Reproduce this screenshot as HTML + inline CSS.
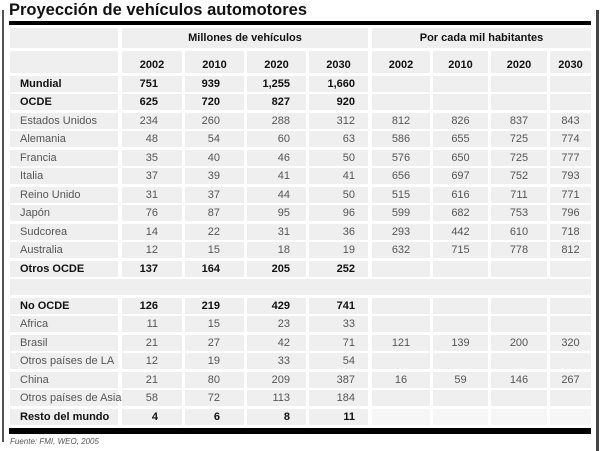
<!DOCTYPE html>
<html><head><meta charset="utf-8"><style>
body{margin:0;width:600px;height:451px;background:#fff;position:relative;overflow:hidden;font-family:"Liberation Sans",sans-serif;}
div{position:absolute;box-sizing:border-box;white-space:nowrap;}
.r div{background:#efefef;height:16px;line-height:16px;font-size:11px;color:#555;}
.r.b div{color:#111;font-weight:bold;}
.L{left:10px;width:108px;padding-left:10px;overflow:visible;}
.a{left:122px;width:60px;text-align:right;padding-right:24px;}
.b_{left:185px;width:59px;text-align:right;padding-right:24px;}
.c{left:247px;width:59px;text-align:right;padding-right:16px;}
.d{left:309px;width:59px;text-align:right;padding-right:13px;}
.e{left:372px;width:58px;text-align:center;}
.f{left:433px;width:55px;text-align:center;}
.g{left:491px;width:56px;text-align:center;}
.h{left:550px;width:41px;text-align:center;}
.r{left:0;width:600px;height:16px;}
</style></head><body>
<div style="left:2px;top:10px;width:2px;height:432px;background:#555"></div>
<div style="left:596px;top:10px;width:3px;height:441px;background:#444"></div>
<div style="left:9px;top:0;font-size:16.5px;font-weight:bold;color:#111;line-height:20px;">Proyección de vehículos automotores</div>
<div style="left:9px;top:21px;width:582px;height:4px;background:#000"></div>

<div style="left:10px;top:28px;width:108px;height:20px;background:#efefef"></div>
<div style="left:122px;top:28px;width:246px;height:20px;background:#efefef;text-align:center;font-size:11px;font-weight:bold;line-height:20px;color:#111">Millones de vehículos</div>
<div style="left:372px;top:28px;width:219px;height:20px;background:#efefef;text-align:center;font-size:11px;font-weight:bold;line-height:20px;color:#111">Por cada mil habitantes</div>

<div class="r b" style="top:51px;height:22px">
<div class="L" style="height:22px"></div>
<div class="a" style="height:22px;padding:6px 0 0;text-align:center;padding-left:0;">2002</div>
<div class="b_" style="height:22px;padding:6px 0 0;text-align:center">2010</div>
<div class="c" style="height:22px;padding:6px 0 0;text-align:center">2020</div>
<div class="d" style="height:22px;padding:6px 0 0;text-align:center">2030</div>
<div class="e" style="height:22px;padding-top:6px">2002</div>
<div class="f" style="height:22px;padding-top:6px">2010</div>
<div class="g" style="height:22px;padding-top:6px">2020</div>
<div class="h" style="height:22px;padding-top:6px">2030</div>
</div>

<div class="r b" style="top:76px"><div class="L">Mundial</div><div class="a">751</div><div class="b_">939</div><div class="c">1,255</div><div class="d">1,660</div><div class="e"></div><div class="f"></div><div class="g"></div><div class="h"></div></div>
<div class="r b" style="top:94px"><div class="L">OCDE</div><div class="a">625</div><div class="b_">720</div><div class="c">827</div><div class="d">920</div><div class="e"></div><div class="f"></div><div class="g"></div><div class="h"></div></div>
<div class="r" style="top:113px"><div class="L">Estados Unidos</div><div class="a">234</div><div class="b_">260</div><div class="c">288</div><div class="d">312</div><div class="e">812</div><div class="f">826</div><div class="g">837</div><div class="h">843</div></div>
<div class="r" style="top:131px"><div class="L">Alemania</div><div class="a">48</div><div class="b_">54</div><div class="c">60</div><div class="d">63</div><div class="e">586</div><div class="f">655</div><div class="g">725</div><div class="h">774</div></div>
<div class="r" style="top:150px"><div class="L">Francia</div><div class="a">35</div><div class="b_">40</div><div class="c">46</div><div class="d">50</div><div class="e">576</div><div class="f">650</div><div class="g">725</div><div class="h">777</div></div>
<div class="r" style="top:168px"><div class="L">Italia</div><div class="a">37</div><div class="b_">39</div><div class="c">41</div><div class="d">41</div><div class="e">656</div><div class="f">697</div><div class="g">752</div><div class="h">793</div></div>
<div class="r" style="top:187px"><div class="L">Reino Unido</div><div class="a">31</div><div class="b_">37</div><div class="c">44</div><div class="d">50</div><div class="e">515</div><div class="f">616</div><div class="g">711</div><div class="h">771</div></div>
<div class="r" style="top:205px"><div class="L">Japón</div><div class="a">76</div><div class="b_">87</div><div class="c">95</div><div class="d">96</div><div class="e">599</div><div class="f">682</div><div class="g">753</div><div class="h">796</div></div>
<div class="r" style="top:224px"><div class="L">Sudcorea</div><div class="a">14</div><div class="b_">22</div><div class="c">31</div><div class="d">36</div><div class="e">293</div><div class="f">442</div><div class="g">610</div><div class="h">718</div></div>
<div class="r" style="top:242px"><div class="L">Australia</div><div class="a">12</div><div class="b_">15</div><div class="c">18</div><div class="d">19</div><div class="e">632</div><div class="f">715</div><div class="g">778</div><div class="h">812</div></div>
<div class="r b" style="top:261px"><div class="L">Otros OCDE</div><div class="a">137</div><div class="b_">164</div><div class="c">205</div><div class="d">252</div><div class="e"></div><div class="f"></div><div class="g"></div><div class="h"></div></div>
<div class="r" style="top:279px"><div style="left:10px;width:581px"></div></div>
<div class="r b" style="top:298px"><div class="L">No OCDE</div><div class="a">126</div><div class="b_">219</div><div class="c">429</div><div class="d">741</div><div class="e"></div><div class="f"></div><div class="g"></div><div class="h"></div></div>
<div class="r" style="top:316px"><div class="L">Africa</div><div class="a">11</div><div class="b_">15</div><div class="c">23</div><div class="d">33</div><div class="e"></div><div class="f"></div><div class="g"></div><div class="h"></div></div>
<div class="r" style="top:335px"><div class="L">Brasil</div><div class="a">21</div><div class="b_">27</div><div class="c">42</div><div class="d">71</div><div class="e">121</div><div class="f">139</div><div class="g">200</div><div class="h">320</div></div>
<div class="r" style="top:353px"><div class="L">Otros países de LA</div><div class="a">12</div><div class="b_">19</div><div class="c">33</div><div class="d">54</div><div class="e"></div><div class="f"></div><div class="g"></div><div class="h"></div></div>
<div class="r" style="top:372px"><div class="L">China</div><div class="a">21</div><div class="b_">80</div><div class="c">209</div><div class="d">387</div><div class="e">16</div><div class="f">59</div><div class="g">146</div><div class="h">267</div></div>
<div class="r" style="top:390px"><div class="L">Otros países de Asia</div><div class="a">58</div><div class="b_">72</div><div class="c">113</div><div class="d">184</div><div class="e"></div><div class="f"></div><div class="g"></div><div class="h"></div></div>
<div class="r b" style="top:409px"><div class="L">Resto del mundo</div><div class="a">4</div><div class="b_">6</div><div class="c">8</div><div class="d">11</div><div class="e" style="background:#f6f6f6"></div><div class="f" style="background:#f6f6f6"></div><div class="g" style="background:#f6f6f6"></div><div class="h" style="background:#f6f6f6"></div></div>

<div style="left:9px;top:428px;width:582px;height:6px;background:#000"></div>
<div style="left:10px;top:437px;font-size:8px;font-style:italic;color:#555;line-height:10px;">Fuente: FMI, WEO, 2005</div>
</body></html>
